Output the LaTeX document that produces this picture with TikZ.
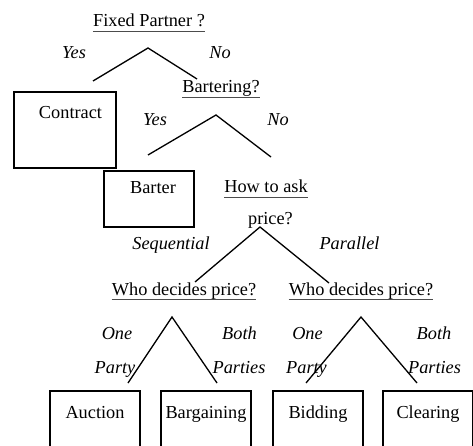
\documentclass[tikz,border=0pt]{standalone}
\usepackage{fontspec}
\setmainfont{Liberation Serif}
\begin{document}
\begin{tikzpicture}[x=1pt,y=-1pt,
  txt/.style={font=\fontsize{18.3}{22}\selectfont, inner sep=0pt, anchor=base},
  ital/.style={txt, font=\fontsize{18.3}{22}\selectfont\itshape},
  ul/.style={draw=black!70, line width=0.8pt},
  br/.style={draw=black, line width=1.3pt},
  boxnode/.style={txt, draw=black, line width=1.4pt, rectangle, minimum width=#1},
  boxnode/.default=90pt]
\useasboundingbox (0,0) rectangle (473,446);

% questions
\node[txt] (q1) at (149,27) {Fixed Partner ?};
\node[txt] (q2) at (221,93) {Bartering?};
\node[txt] (q3) at (266,193) {How to ask};
\node[txt] (q3b) at (270.5,225) {price?};
\node[txt] (q4) at (184,295) {Who decides price?};
\node[txt] (q5) at (361,295) {Who decides price?};
\foreach \n in {q1,q2,q3,q4,q5}
  \draw[ul] ([yshift=-4pt]\n.base west) -- ([yshift=-4pt]\n.base east);

% branch labels
\node[ital] (y1) at (74,59) {Yes};
\node[ital] (n1) at (220,59) {No};
\node[ital] (y2) at (155,126) {Yes};
\node[ital] (n2) at (278,126) {No};
\node[ital] (s3) at (171,249) {Sequential};
\node[ital] (p3) at (349.5,249) {Parallel};
\node[ital] (o4) at (117,339) {One};
\node[ital] (o4b) at (115,373) {Party};
\node[ital] (b4) at (239.5,339) {Both};
\node[ital] (b4b) at (239,373) {Parties};
\node[ital] (o5) at (307.5,339) {One};
\node[ital] (o5b) at (306.5,373) {Party};
\node[ital] (b5) at (434,339) {Both};
\node[ital] (b5b) at (434.5,373) {Parties};

% outcome boxes
\node[boxnode=102pt, text height=27pt, text depth=49pt] (contract) at (65,119) {\hspace*{11pt}Contract};
\node[boxnode=90pt, text height=23pt, text depth=33pt] (barter) at (149,194) {\hspace*{8pt}Barter};
\node[boxnode, text height=27pt, text depth=60pt] (auction) at (95,418) {Auction};
\node[boxnode, text height=27pt, text depth=60pt] (bargaining) at (206,418) {Bargaining};
\node[boxnode, text height=27pt, text depth=60pt] (bidding) at (318,418) {Bidding};
\node[boxnode, text height=27pt, text depth=60pt] (clearing) at (428,418) {Clearing};

% branches
\coordinate (a1) at (148,48); \coordinate (a1l) at (93,81); \coordinate (a1r) at (197,79);
\coordinate (a2) at (216,115); \coordinate (a2l) at (148,155); \coordinate (a2r) at (271,157);
\coordinate (a3) at (260,227); \coordinate (a3l) at (195,282); \coordinate (a3r) at (329,283);
\coordinate (a4) at (172,317); \coordinate (a4l) at (128,383); \coordinate (a4r) at (217,383);
\coordinate (a5) at (361,317); \coordinate (a5l) at (306,383); \coordinate (a5r) at (417,383);
\foreach \a in {a1,a2,a3,a4,a5}
  \draw[br] (\a l) -- (\a) -- (\a r);
\end{tikzpicture}
\end{document}
